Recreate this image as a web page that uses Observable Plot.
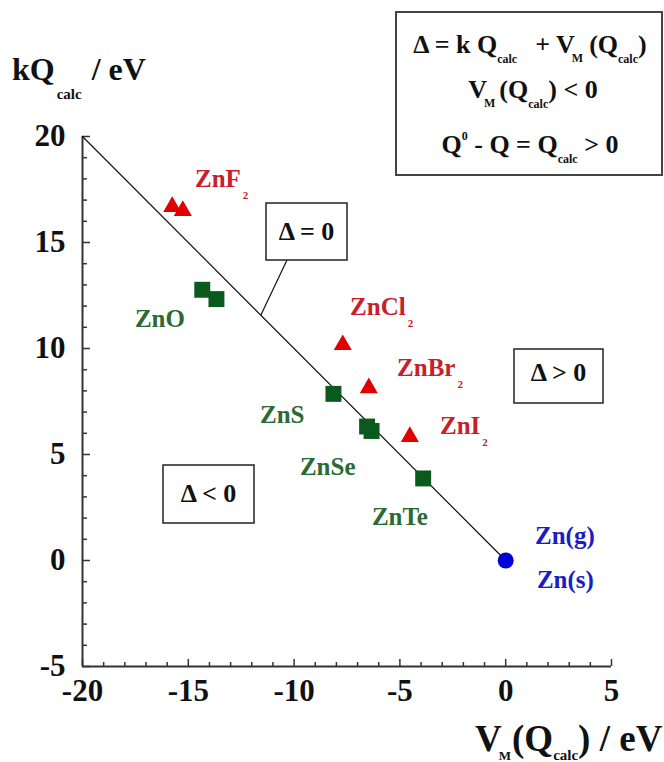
<!DOCTYPE html>
<html>
<head>
<meta charset="utf-8">
<script src="https://cdn.jsdelivr.net/npm/d3@7"></script>
<script src="https://cdn.jsdelivr.net/npm/@observablehq/plot@0.6"></script>
<style>
  html, body { margin: 0; padding: 0; background: #fff; }
  #chart svg { display: block; }
</style>
</head>
<body>
<div id="chart"></div>
<script>
// Axis ticks
const xMajor = [-20, -15, -10, -5, 0, 5];
const yMajor = [-5, 0, 5, 10, 15, 20];
const xMinor = [-19, -18, -17, -16, -14, -13, -12, -11, -9, -8, -7, -6, -4, -3, -2, -1, 1, 2, 3, 4];
const yMinor = [-4, -3, -2, -1, 1, 2, 3, 4, 6, 7, 8, 9, 11, 12, 13, 14, 16, 17, 18, 19];

// Zinc halides (triangles): V_M(Q_calc) and kQ_calc, eV
const halideNames = ["ZnF2", "ZnF2", "ZnCl2", "ZnBr2", "ZnI2"];
const halideVM = [-15.76, -15.26, -7.70, -6.47, -4.53];
const halideKQ = [16.69, 16.50, 10.17, 8.14, 5.84];

// Zinc chalcogenides (squares)
const chalcNames = ["ZnO", "ZnO", "ZnS", "ZnSe", "ZnSe", "ZnTe"];
const chalcVM = [-14.34, -13.67, -8.14, -6.55, -6.34, -3.90];
const chalcKQ = [12.77, 12.33, 7.86, 6.32, 6.11, 3.87];

// Metallic zinc
const metalVM = [0];
const metalKQ = [0];

// Delta = 0 line: kQ_calc = -V_M(Q_calc)
const balanceVM = [-20, 0];
const balanceKQ = [20, 0];

// Compound labels: text, subscript, anchor (data units), colour group
const labelText = ["ZnF", "ZnO", "ZnCl", "ZnBr", "ZnI", "ZnS", "ZnSe", "ZnTe", "Zn(g)", "Zn(s)"];
const labelSub  = ["2", "", "2", "2", "2", "", "", "", "", ""];
const labelVM   = [-14.66, -17.50, -7.33, -5.11, -3.08, -11.59, -9.70, -6.30, 1.41, 1.50];
const labelKQ   = [17.59, 10.97, 11.54, 8.66, 5.96, 6.48, 4.02, 1.66, 0.77, -1.31];
const labelGroup = ["halide", "chalc", "halide", "halide", "halide", "chalc", "chalc", "chalc", "metal", "metal"];

const FONT = "Liberation Serif, Times New Roman, DejaVu Serif, serif";
const INK = "#111";
const AXIS = "#333";
const groupColor = {halide: "#c8202a", chalc: "#2b6a33", metal: "#1c1cc4"};

const W = 664, H = 762;
const mL = 82, mR = 53, mT = 136, mB = 96;
const frameW = W - mL - mR, frameH = H - mT - mB;

const halides = halideNames.map((n, i) => ({name: n, vm: halideVM[i], kq: halideKQ[i]}));
const chalcs = chalcNames.map((n, i) => ({name: n, vm: chalcVM[i], kq: chalcKQ[i]}));
const metal = metalVM.map((v, i) => ({vm: v, kq: metalKQ[i]}));
const balance = balanceVM.map((v, i) => ({vm: v, kq: balanceKQ[i]}));

const tickText = {
  text: d => String(d), fontSize: 31, fontWeight: "bold", fontFamily: FONT, fill: INK
};

const plot = Plot.plot({
  width: W,
  height: H,
  marginLeft: mL, marginRight: mR, marginTop: mT, marginBottom: mB,
  x: {domain: [-20, 5], axis: null},
  y: {domain: [-5, 20], axis: null},
  style: {fontFamily: FONT, background: "#fff"},
  marks: [
    // inward ticks
    Plot.tickX(xMinor, {x: d => d, insetTop: frameH - 4, stroke: AXIS, strokeWidth: 1.5}),
    Plot.tickX(xMajor, {x: d => d, insetTop: frameH - 7, stroke: AXIS, strokeWidth: 1.5}),
    Plot.tickY(yMinor, {y: d => d, insetRight: frameW - 5, stroke: AXIS, strokeWidth: 1.5}),
    Plot.tickY(yMajor, {y: d => d, insetRight: frameW - 8, stroke: AXIS, strokeWidth: 1.5}),
    // axis lines
    Plot.ruleX([-20], {stroke: AXIS, strokeWidth: 2}),
    Plot.ruleY([-5], {stroke: AXIS, strokeWidth: 2}),
    // tick labels
    Plot.text(xMajor, {...tickText, x: d => d, frameAnchor: "bottom", lineAnchor: "top", dy: 12}),
    Plot.text(yMajor, {...tickText, y: d => d, frameAnchor: "left", textAnchor: "end", dx: -17}),
    // Delta = 0 line
    Plot.line(balance, {x: "vm", y: "kq", stroke: INK, strokeWidth: 1.2}),
    // compounds
    Plot.dot(halides, {x: "vm", y: "kq", symbol: "triangle", fill: "#e00000", r: 6.7}),
    Plot.dot(chalcs, {x: "vm", y: "kq", symbol: "square", fill: "#0a5a1e", r: 9}),
    Plot.dot(metal, {x: "vm", y: "kq", symbol: "circle", fill: "#0000d4", r: 8})
  ]
});

document.getElementById("chart").appendChild(plot);

// bold serif face for every text the plot drew (tick labels)
d3.select(plot).selectAll("text")
  .style("font-family", FONT)
  .style("font-weight", "700")
  .style("font-variant", "normal");

const sx = plot.scale("x"), sy = plot.scale("y");
const svg = d3.select(plot);
const ann = svg.append("g")
  .attr("font-family", FONT)
  .attr("font-weight", "bold")
  .style("white-space", "pre");

// Text with sub/superscripts: each part sits at an offset from the main baseline
function richText(parent, x, y, size, fill, anchor, parts) {
  const t = parent.append("text")
    .attr("x", x).attr("y", y)
    .attr("font-size", size)
    .attr("fill", fill)
    .attr("text-anchor", anchor);
  let shift = 0;
  for (const p of parts) {
    const off = p.off || 0;
    const s = t.append("tspan").text(p.t).attr("dy", off - shift);
    shift = off;
    if (p.size) s.attr("font-size", p.size);
    if (p.dx) s.attr("dx", p.dx);
  }
  return t;
}

// Axis titles
richText(ann, 12, 80, 32, INK, "start", [
  {t: "kQ"},
  {t: "calc", size: 15, off: 19, dx: 2},
  {t: " / eV", off: 0, dx: 2}
]);
richText(ann, 475, 751, 37, INK, "start", [
  {t: "V"},
  {t: "M", size: 13, off: 9, dx: -3},
  {t: "(Q", off: 0, dx: 1},
  {t: "calc", size: 15, off: 9},
  {t: ") / eV", off: 0}
]);

// Compound labels
labelText.forEach((txt, i) => {
  const parts = [{t: txt}];
  if (labelSub[i]) parts.push({t: labelSub[i], size: 11, off: 12, dx: 2});
  richText(ann, sx.apply(labelVM[i]), sy.apply(labelKQ[i]), 25, groupColor[labelGroup[i]], "start", parts);
});

// Boxed annotations
function box(x, y, w, h, sw, stroke) {
  ann.append("rect")
    .attr("x", x).attr("y", y).attr("width", w).attr("height", h)
    .attr("fill", "#fff").attr("stroke", stroke).attr("stroke-width", sw);
}

// leader from the "Delta = 0" box to the line
const leaderVM = -11.55;
ann.append("line")
  .attr("x1", 287).attr("y1", 260)
  .attr("x2", sx.apply(leaderVM)).attr("y2", sy.apply(-leaderVM))
  .attr("stroke", INK).attr("stroke-width", 1.2);

box(266, 203, 81, 57, 1.5, "#222");
richText(ann, 306.5, 240, 26, INK, "middle", [{t: "Δ = 0"}]);

box(514, 349, 89, 54, 1.5, "#222");
richText(ann, 558.5, 381, 26, INK, "middle", [{t: "Δ > 0"}]);

box(163, 465, 91, 58, 1.5, "#222");
richText(ann, 208.5, 502, 26, INK, "middle", [{t: "Δ < 0"}]);

// Definitions box
box(396, 12, 266, 163, 2, "#444");
richText(ann, 530, 53, 26, INK, "middle", [
  {t: "Δ = k Q"},
  {t: "calc", size: 12, off: 10},
  {t: "+ V", off: 0, dx: 18},
  {t: "M", size: 12, off: 9, dx: -3},
  {t: "(Q", off: 0, dx: 6},
  {t: "calc", size: 12, off: 10},
  {t: ")", off: 0}
]);
richText(ann, 533, 98, 26, INK, "middle", [
  {t: "V"},
  {t: "M", size: 12, off: 9, dx: -3},
  {t: "(Q", off: 0, dx: 4},
  {t: "calc", size: 12, off: 10},
  {t: ") < 0", off: 0}
]);
richText(ann, 530, 153, 26, INK, "middle", [
  {t: "Q"},
  {t: "0", size: 12, off: -13},
  {t: " - Q = Q", off: 0},
  {t: "calc", size: 12, off: 10},
  {t: " > 0", off: 0}
]);
</script>
</body>
</html>
